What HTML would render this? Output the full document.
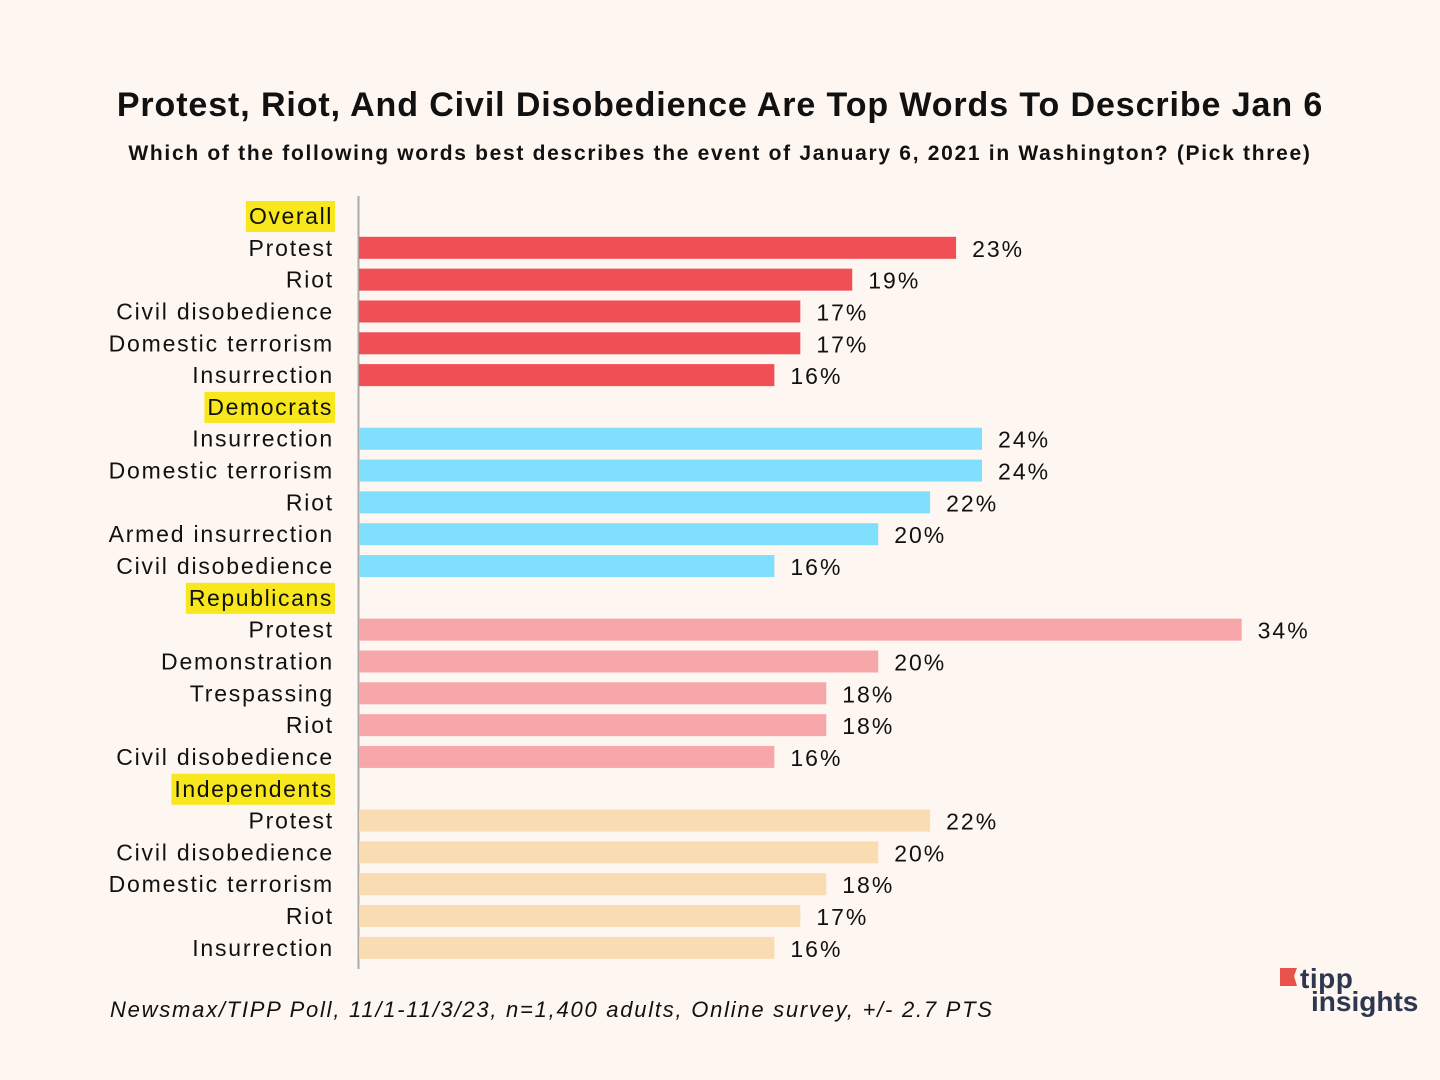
<!DOCTYPE html>
<html><head><meta charset="utf-8"><style>
body{margin:0;background:#fdf6f1;}
svg{display:block;font-family:"Liberation Sans",sans-serif;}
</style></head><body>
<svg id="c" width="1440" height="1080">
<rect width="1440" height="1080" fill="#fdf6f1"/>
<text x="720" y="116" text-anchor="middle" font-size="34" font-weight="bold" fill="#111" letter-spacing="0.9">Protest, Riot, And Civil Disobedience Are Top Words To Describe Jan 6</text>
<text x="720" y="160" text-anchor="middle" font-size="21" font-weight="bold" fill="#111" letter-spacing="1.7">Which of the following words best describes the event of January 6, 2021 in Washington? (Pick three)</text>
<line x1="358.5" y1="196" x2="358.5" y2="969" stroke="#aaa" stroke-width="2"/>
<g id="bars"></g>
<text x="110" y="1017" font-size="22" font-style="italic" fill="#111" letter-spacing="1.75">Newsmax/TIPP Poll, 11/1-11/3/23, n=1,400 adults, Online survey, +/- 2.7 PTS</text>
<g>
<polygon points="1280,968 1297,968 1294,976 1297,986 1280,986" fill="#e9524a"/>
<text x="1300" y="988" font-size="28" font-weight="bold" fill="#2e3650" letter-spacing="0.5">tipp</text>
<text x="1311" y="1011" font-size="28" font-weight="bold" fill="#2e3650">insights</text>
</g>
</svg>
<script>
const groups = ["Overall","Democrats","Republicans","Independents"];
const groupColors = ["#f04f56","#7fdffc","#f7a7aa","#fadcb2"];
const categories = [
 ["Protest","Riot","Civil disobedience","Domestic terrorism","Insurrection"],
 ["Insurrection","Domestic terrorism","Riot","Armed insurrection","Civil disobedience"],
 ["Protest","Demonstration","Trespassing","Riot","Civil disobedience"],
 ["Protest","Civil disobedience","Domestic terrorism","Riot","Insurrection"]
];
const values = [
 [23,19,17,17,16],
 [24,24,22,20,16],
 [34,20,18,18,16],
 [22,20,18,17,16]
];
const NS="http://www.w3.org/2000/svg";
const g=document.getElementById('bars');
const x0=359, pxPer=25.96, rowStart=216, rowStep=31.82;
const xs=v=>x0+v*pxPer;
const ys=i=>rowStart+i*rowStep;
function mk(t,a){const e=document.createElementNS(NS,t);for(const k in a)e.setAttribute(k,a[k]);g.appendChild(e);return e;}
let row=0;
groups.forEach((gn,gi)=>{
 const cy=ys(row);
 const hl=mk('rect',{x:0,y:cy-15,width:0,height:31,fill:'#f8e71c'});
 
 
 const ht=mk('text',{x:333,y:cy+8,'text-anchor':'end','font-size':23,fill:'#111','letter-spacing':1.6});
 ht.textContent=gn;
 
 
 const bb=ht.getBBox();
 hl.setAttribute('x',bb.x-3);
 hl.setAttribute('width',335-(bb.x-3));
 row++;
 categories[gi].forEach((c,ci)=>{
  const y=ys(row), v=values[gi][ci];
  const lb=mk('text',{x:334,y:y+8,'text-anchor':'end','font-size':23,fill:'#111','letter-spacing':1.8});
  lb.textContent=c;
  
  
  const b=mk('rect',{x:x0,y:y-11,width:xs(v)-x0,height:22,fill:groupColors[gi]});
  
  
  const vl=mk('text',{x:xs(v)+16,y:y+9,'font-size':23,fill:'#111','letter-spacing':2});
  vl.textContent=v+'%';
  
  
  row++;
 });
});
</script>
</body></html>
